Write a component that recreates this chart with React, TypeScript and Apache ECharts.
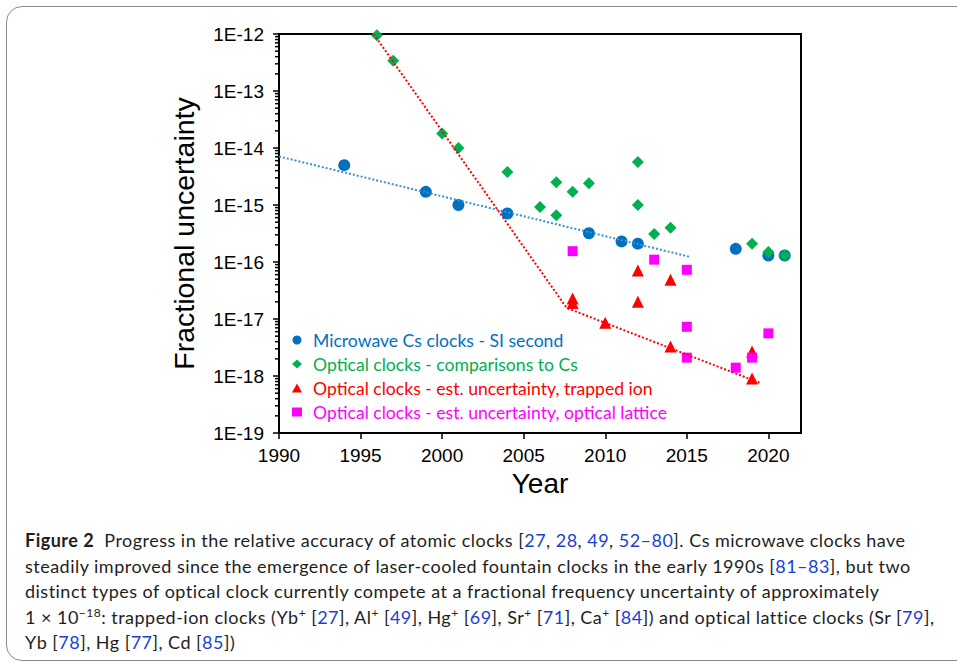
import React, { useEffect, useRef } from "react";
import * as echarts from "echarts";

const microwaveCs: [number, number][] = [
  [1994, 5.0e-15], [1999, 1.7e-15], [2001, 1.0e-15], [2004, 7.1e-16], [2009, 3.2e-16],
  [2011, 2.3e-16], [2012, 2.1e-16], [2018, 1.7e-16], [2020, 1.3e-16], [2021, 1.3e-16],
];
const opticalVsCs: [number, number][] = [
  [1996, 9.5e-13], [1997, 3.4e-13], [2000, 1.8e-14], [2001, 1.0e-14], [2004, 3.8e-15],
  [2006, 9.2e-16], [2007, 2.5e-15], [2007, 6.6e-16], [2008, 1.7e-15], [2009, 2.4e-15],
  [2012, 5.7e-15], [2012, 1.0e-15], [2013, 3.1e-16], [2014, 4.0e-16], [2019, 2.1e-16],
  [2020, 1.5e-16], [2021, 1.3e-16],
];
const trappedIon: [number, number][] = [
  [2008, 2.3e-17], [2008, 1.9e-17], [2010, 8.6e-18], [2012, 7.1e-17], [2012, 2.0e-17],
  [2014, 4.9e-17], [2014, 3.3e-18], [2019, 2.7e-18], [2019, 9.0e-19],
];
const opticalLattice: [number, number][] = [
  [2008, 1.55e-16], [2013, 1.1e-16], [2015, 7.3e-17], [2015, 7.3e-18], [2015, 2.1e-18],
  [2018, 1.4e-18], [2019, 2.1e-18], [2020, 5.6e-18],
];
const csTrend: [number, number][] = [[1990, 7.1e-15], [2015.2, 1.23e-16]];
const ionTrend: [number, number][] = [[1995.8, 1.0e-12], [2007.64, 1.56e-17], [2019.52, 7.5e-19]];
const minorTickValues: number[] = [];
for (let e = -19; e < -12; e++) {
  for (let m = 2; m <= 9; m++) minorTickValues.push(m * Math.pow(10, e));
}
const seriesNames = [
  "Microwave Cs clocks - SI second",
  "Optical clocks - comparisons to Cs",
  "Optical clocks - est. uncertainty, trapped ion",
  "Optical clocks - est. uncertainty, optical lattice",
];
const colors = ["#0070C0", "#00B050", "#FF0000", "#FF00FF"];

const REF = "#1a3fd6";
const R = (t: string) => <span style={{ color: REF }}>{t}</span>;
const Sup = (t: string) => (
  <span style={{ fontSize: 12, position: "relative", top: -7, lineHeight: 0 }}>{t}</span>
);

export default function App() {
  const ref = useRef<HTMLDivElement>(null);
  useEffect(() => {
    if (!ref.current) return;
    const chart = echarts.init(ref.current, undefined, { renderer: "svg" });
    const axisFont = "'Liberation Sans', Arial, sans-serif";
    chart.setOption({
      animation: false,
      grid: { left: 279, top: 34, right: 156, bottom: 233, show: true, borderColor: "#000", borderWidth: 2 },
      legend: {
        orient: "vertical",
        left: 287,
        top: 325,
        itemWidth: 10,
        itemHeight: 9,
        itemGap: 4,
        textStyle: { fontFamily: "Lato", fontSize: 17.6, lineHeight: 20, padding: [0, 0, 0, 6] },
        data: seriesNames.map((n, i) => ({
          name: n,
          icon: ["circle", "diamond", "triangle", "rect"][i],
          textStyle: { color: colors[i] },
        })),
      },
      xAxis: {
        type: "value",
        min: 1990,
        max: 2022,
        interval: 5,
        name: "Year",
        nameLocation: "middle",
        nameGap: 35,
        nameTextStyle: { fontFamily: axisFont, fontSize: 28, color: "#000" },
        axisLine: { lineStyle: { color: "#000", width: 2 } },
        axisTick: { length: 6, lineStyle: { color: "#000", width: 1.5 } },
        axisLabel: {
          fontFamily: axisFont, fontSize: 19, color: "#000", margin: 13, showMaxLabel: false,
          formatter: (v: number) => String(v),
        },
        splitLine: { show: false },
      },
      yAxis: {
        type: "log",
        logBase: 10,
        min: 1e-19,
        max: 1e-12,
        splitNumber: 7,
        name: "Fractional uncertainty",
        nameLocation: "middle",
        nameGap: 81,
        nameTextStyle: { fontFamily: axisFont, fontSize: 28.5, color: "#000" },
        axisLine: { lineStyle: { color: "#000", width: 2 } },
        axisTick: { length: 6, lineStyle: { color: "#000", width: 1.5 } },
        axisLabel: {
          fontFamily: axisFont,
          fontSize: 19,
          color: "#000",
          margin: 15,
          formatter: (v: number) => "1E" + Math.round(Math.log10(v)),
        },
        splitLine: { show: false },
      },
      series: [
        { name: seriesNames[0], type: "scatter", symbol: "circle", symbolSize: 12, itemStyle: { color: colors[0], opacity: 1 }, data: microwaveCs },
        { name: seriesNames[1], type: "scatter", symbol: "diamond", symbolSize: 12, itemStyle: { color: colors[1], opacity: 1 }, data: opticalVsCs },
        { name: seriesNames[2], type: "scatter", symbol: "triangle", symbolSize: 12, itemStyle: { color: colors[2], opacity: 1 }, data: trappedIon },
        { name: seriesNames[3], type: "scatter", symbol: "rect", symbolSize: 10, itemStyle: { color: colors[3], opacity: 1 }, data: opticalLattice },
        {
          name: "csTrend", type: "line", data: csTrend, symbol: "none", silent: true, z: 5,
          lineStyle: { color: "#3a8fd6", width: 2, type: [2, 2] },
        },
        {
          name: "ionTrend", type: "line", data: ionTrend, symbol: "none", silent: true, z: 5,
          lineStyle: { color: "#FF0000", width: 2, type: [2, 2] },
        },
        {
          name: "minorTicks",
          type: "custom",
          silent: true,
          clip: false,
          z: 10,
          data: minorTickValues.map((v) => [1990, v]),
          renderItem: (_p: any, api: any) => {
            const pt = api.coord([api.value(0), api.value(1)]);
            return {
              type: "line",
              shape: { x1: pt[0] - 4, y1: pt[1], x2: pt[0], y2: pt[1] },
              style: { stroke: "#000", lineWidth: 1.5 },
            };
          },
        },
      ],
    });
    return () => chart.dispose();
  }, []);

  const lineStyle: React.CSSProperties = { whiteSpace: "nowrap", height: 25.5, lineHeight: "25.5px" };
  return (
    <div style={{ position: "absolute", left: 0, top: 0, width: 957, height: 666, overflow: "hidden", background: "#fff" }}>
      <div
        style={{
          position: "absolute", left: 6, top: 6, width: 1000, height: 655,
          border: "1.5px solid #8a8a8a", borderRadius: 16, boxSizing: "border-box",
        }}
      />
      <div ref={ref} style={{ position: "absolute", left: 0, top: 0, width: 957, height: 666 }} />
      <div
        style={{
          position: "absolute", left: 25, top: 528, fontFamily: "Lato, sans-serif", fontSize: 18,
          letterSpacing: 0.48, color: "#1e1e1e",
        }}
      >
        <div style={lineStyle}>
          <b>Figure 2</b>&nbsp;&nbsp;Progress in the relative accuracy of atomic clocks [{R("27")}, {R("28")}, {R("49")}, {R("52–80")}]. Cs microwave clocks have
        </div>
        <div style={lineStyle}>
          steadily improved since the emergence of laser-cooled fountain clocks in the early 1990s [{R("81–83")}], but two
        </div>
        <div style={lineStyle}>
          distinct types of optical clock currently compete at a fractional frequency uncertainty of approximately
        </div>
        <div style={lineStyle}>
          1 × 10{Sup("−18")}: trapped-ion clocks (Yb{Sup("+")} [{R("27")}], Al{Sup("+")} [{R("49")}], Hg{Sup("+")} [{R("69")}], Sr{Sup("+")} [{R("71")}], Ca{Sup("+")} [{R("84")}]) and optical lattice clocks (Sr [{R("79")}],
        </div>
        <div style={lineStyle}>
          Yb [{R("78")}], Hg [{R("77")}], Cd [{R("85")}])
        </div>
      </div>
    </div>
  );
}
